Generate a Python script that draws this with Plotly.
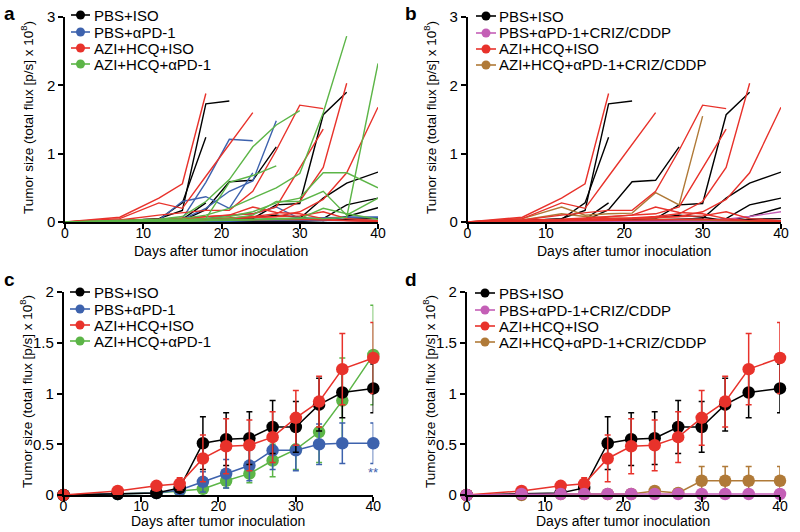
import plotly.graph_objects as go

days = [0, 7, 12, 15, 18, 21, 24, 27, 30, 33, 36, 40]
N = None

# ---- individual mice (panels a, b) ----
pbs_iso_mice = [
    [0, 0.02, 0.05, 0.17, 1.73, 1.77, N, N, N, N, N, N],
    [0, 0.02, 0.04, 0.28, 1.24, N, N, N, N, N, N, N],
    [0, 0.01, 0.02, 0.04, 0.28, N, N, N, N, N, N, N],
    [0, 0.01, 0.02, 0.02, 0.18, 0.59, 0.61, 1.10, N, N, N, N],
    [0, 0.01, 0.01, 0.02, 0.02, 0.03, 0.05, 0.25, 0.27, 1.57, 1.90, N],
    [0, 0.00, 0.01, 0.01, 0.02, 0.02, 0.03, 0.04, 0.05, 0.35, 0.57, 0.73],
    [0, 0.00, 0.00, 0.01, 0.01, 0.01, 0.02, 0.02, 0.01, 0.05, 0.25, 0.35],
    [0, 0.00, 0.00, 0.00, 0.01, 0.01, 0.01, 0.01, 0.01, 0.02, 0.08, 0.21],
    [0, 0.00, 0.01, 0.02, 0.03, 0.04, 0.06, 0.10, 0.07, 0.02, 0.04, 0.05],
]
pbs_apd1_mice = [
    [0, 0.02, 0.03, 0.30, 0.37, 0.20, 0.72, N, N, N, N, N],
    [0, 0.01, 0.02, 0.05, 0.58, 1.21, 1.19, N, N, N, N, N],
    [0, 0.01, 0.02, 0.04, 0.20, 0.45, 0.60, 1.48, N, N, N, N],
    [0, 0.01, 0.01, 0.02, 0.05, 0.10, 0.12, 0.22, 0.05, 0.04, 0.07, 0.07],
    [0, 0.00, 0.01, 0.01, 0.02, 0.03, 0.04, 0.05, 0.05, 0.07, 0.07, 0.07],
    [0, 0.00, 0.00, 0.01, 0.01, 0.01, 0.02, 0.02, 0.02, 0.03, 0.02, 0.01],
]
azi_iso_mice = [
    [0, 0.07, 0.35, 0.56, 1.88, N, N, N, N, N, N, N],
    [0, 0.05, 0.28, 0.20, 0.67, 1.13, 1.60, N, N, N, N, N],
    [0, 0.03, 0.10, 0.13, 0.17, 0.17, 0.45, 1.05, 1.71, 1.66, N, N],
    [0, 0.02, 0.04, 0.06, 0.08, 0.10, 0.12, 0.22, 0.80, 1.36, N, N],
    [0, 0.02, 0.03, 0.04, 0.05, 0.06, 0.08, 0.12, 0.30, 0.80, 2.03, N],
    [0, 0.01, 0.02, 0.03, 0.04, 0.05, 0.06, 0.08, 0.15, 0.33, 0.72, 1.68],
    [0, 0.02, 0.03, 0.05, 0.08, 0.10, 0.22, 0.14, 0.12, 0.05, 0.02, 0.01],
    [0, 0.01, 0.02, 0.03, 0.04, 0.05, 0.06, 0.07, 0.09, 0.15, 0.05, 0.02],
    [0, 0.01, 0.01, 0.02, 0.02, 0.03, 0.03, 0.04, 0.04, 0.03, 0.02, 0.01],
]
azi_apd1_mice = [
    [0, 0.02, 0.04, 0.08, 0.30, 0.62, 1.10, 1.42, 1.63, N, N, N],
    [0, 0.01, 0.03, 0.05, 0.10, 0.20, 0.35, 0.50, 0.71, 1.60, 2.72, N],
    [0, 0.01, 0.02, 0.03, 0.05, 0.58, 0.68, 0.82, N, N, N, N],
    [0, 0.01, 0.02, 0.03, 0.05, 0.08, 0.15, 0.28, 0.35, 0.72, 0.72, 0.50],
    [0, 0.01, 0.01, 0.02, 0.03, 0.05, 0.10, 0.30, 0.30, 0.45, 0.10, 0.35],
    [0, 0.00, 0.01, 0.01, 0.02, 0.03, 0.04, 0.05, 0.06, 0.05, 0.07, 2.32],
    [0, 0.00, 0.01, 0.01, 0.02, 0.02, 0.03, 0.04, 0.05, 0.20, 0.12, 0.04],
]
pbs_combo_mice = [
    [0, 0.01, 0.01, 0.01, 0.01, 0.01, 0.01, 0.01, 0.02, 0.04, 0.08, 0.15],
    [0, 0.00, 0.01, 0.01, 0.01, 0.01, 0.01, 0.01, 0.01, 0.01, 0.01, 0.01],
]
azi_combo_mice = [
    [0, 0.05, 0.22, 0.10, 0.12, 0.13, 0.43, 0.25, 1.55, N, N, N],
    [0, 0.03, 0.12, 0.08, 0.06, 0.05, 0.04, 0.03, 0.02, 0.02, 0.01, 0.01],
]

# ---- group means and SEM (panels c, d) ----
pbs_iso_mean = [0, 0.01, 0.02, 0.07, 0.51, 0.55, 0.56, 0.67, 0.67, 0.89, 1.01, 1.05]
pbs_iso_sem = [0, 0.01, 0.02, 0.03, 0.26, 0.26, 0.26, 0.26, 0.25, 0.26, 0.25, 0.24]
pbs_apd1_mean = [0, 0.01, 0.02, 0.05, 0.13, 0.21, 0.29, 0.44, 0.44, 0.50, 0.51, 0.51]
pbs_apd1_sem = [0, 0.01, 0.01, 0.02, 0.10, 0.14, 0.15, 0.19, 0.20, 0.20, 0.20, 0.20]
azi_iso_mean = [0, 0.04, 0.09, 0.11, 0.36, 0.48, 0.49, 0.57, 0.76, 0.92, 1.24, 1.35]
azi_iso_sem = [0, 0.02, 0.03, 0.06, 0.23, 0.27, 0.25, 0.25, 0.27, 0.25, 0.35, 0.35]
azi_apd1_mean = [0, 0.01, 0.02, 0.04, 0.06, 0.14, 0.21, 0.34, 0.45, 0.62, 0.93, 1.38]
azi_apd1_sem = [0, 0.01, 0.01, 0.02, 0.03, 0.07, 0.09, 0.16, 0.20, 0.30, 0.42, 0.49]
pbs_combo_mean = [0, 0.01, 0.01, 0.01, 0.01, 0.01, 0.01, 0.01, 0.01, 0.01, 0.01, 0.01]
pbs_combo_sem = [0, 0, 0, 0, 0, 0, 0, 0, 0, 0, 0, 0]
azi_combo_mean = [0, 0.00, 0.01, 0.01, 0.01, 0.01, 0.04, 0.02, 0.14, 0.14, 0.14, 0.14]
azi_combo_sem = [0, 0, 0, 0, 0, 0, 0.03, 0.01, 0.14, 0.14, 0.14, 0.14]

names_ac = ["PBS+ISO", "PBS+αPD-1", "AZI+HCQ+ISO", "AZI+HCQ+αPD-1"]
names_bd = ["PBS+ISO", "PBS+αPD-1+CRIZ/CDDP", "AZI+HCQ+ISO", "AZI+HCQ+αPD-1+CRIZ/CDDP"]

BLACK = "#000000"
BLUE = "#3d62ad"
RED = "#e8322b"
GREEN = "#5cb547"
PINK = "#c45fb6"
BROWN = "#b07a38"
colors_ac = [BLACK, BLUE, RED, GREEN]
colors_bd = [BLACK, PINK, RED, BROWN]

FONT = "Liberation Sans, Arial, sans-serif"
W, H = 800, 532
def px_x(p):
    return p / W
def px_y(p):
    return 1 - p / H

fig = go.Figure()

def spaghetti(mice, color, xa, ya):
    for m in mice:
        fig.add_trace(go.Scatter(x=days, y=m, mode="lines", line=dict(color=color, width=1.4),
                                 xaxis=xa, yaxis=ya, showlegend=False, connectgaps=False,
                                 cliponaxis=False, hoverinfo="skip"))

spaghetti(pbs_iso_mice, BLACK, "x", "y")
spaghetti(pbs_apd1_mice, BLUE, "x", "y")
spaghetti(azi_iso_mice, RED, "x", "y")
spaghetti(azi_apd1_mice, GREEN, "x", "y")

spaghetti(pbs_iso_mice, BLACK, "x2", "y2")
spaghetti(pbs_combo_mice, PINK, "x2", "y2")
spaghetti(azi_combo_mice, BROWN, "x2", "y2")
spaghetti(azi_iso_mice, RED, "x2", "y2")

def mean_trace(mean, sem, color, xa, ya):
    fig.add_trace(go.Scatter(x=days, y=mean, mode="lines+markers", showlegend=False,
                             line=dict(color=color, width=1.5),
                             marker=dict(color=color, size=12.5),
                             error_y=dict(type="data", array=sem, color=color, thickness=1.5, width=3),
                             xaxis=xa, yaxis=ya, cliponaxis=False))

mean_trace(azi_apd1_mean, azi_apd1_sem, GREEN, "x3", "y3")
mean_trace(pbs_apd1_mean, pbs_apd1_sem, BLUE, "x3", "y3")
mean_trace(pbs_iso_mean, pbs_iso_sem, BLACK, "x3", "y3")
mean_trace(azi_iso_mean, azi_iso_sem, RED, "x3", "y3")

mean_trace(azi_combo_mean, azi_combo_sem, BROWN, "x4", "y4")
mean_trace(pbs_iso_mean, pbs_iso_sem, BLACK, "x4", "y4")
mean_trace(azi_iso_mean, azi_iso_sem, RED, "x4", "y4")
mean_trace(pbs_combo_mean, pbs_combo_sem, PINK, "x4", "y4")

def xaxis(dom, anchor):
    return dict(domain=dom, anchor=anchor, range=[0, 40], tickvals=[0, 10, 20, 30, 40],
                showline=True, linecolor="black", linewidth=1.5, ticks="outside", ticklen=5,
                tickwidth=1.5, tickcolor="black", showgrid=False, zeroline=False, automargin=False,
                ticklabelstandoff=-8,
                tickfont=dict(size=14, family=FONT, color="black"))

def yaxis(dom, anchor, rng, tv, tt):
    return dict(domain=dom, anchor=anchor, range=rng, tickvals=tv, ticktext=tt,
                showline=True, linecolor="black", linewidth=1.5, ticks="outside", ticklen=5,
                tickwidth=1.5, tickcolor="black", showgrid=False, zeroline=False, automargin=False,
                tickfont=dict(size=15, family=FONT, color="black"))

ydom_top = [px_y(222), px_y(17)]
ydom_bot = [px_y(495), px_y(292)]
fig.update_layout(
    width=W, height=H, margin=dict(l=0, r=0, t=0, b=0),
    plot_bgcolor="white", paper_bgcolor="white", showlegend=False,
    font=dict(family=FONT, color="black"),
    xaxis=xaxis([px_x(65), px_x(378)], "y"),
    yaxis=yaxis(ydom_top, "x", [0, 3], [0, 1, 2, 3], ["0", "1", "2", "3"]),
    xaxis2=xaxis([px_x(467.5), px_x(781)], "y2"),
    yaxis2=yaxis(ydom_top, "x2", [0, 3], [0, 1, 2, 3], ["0", "1", "2", "3"]),
    xaxis3=xaxis([px_x(63.5), px_x(373.3)], "y3"),
    yaxis3=yaxis(ydom_bot, "x3", [0, 2], [0, 0.5, 1, 1.5, 2], ["0", "0.5", "1", "1.5", "2"]),
    xaxis4=xaxis([px_x(466.7), px_x(780)], "y4"),
    yaxis4=yaxis(ydom_bot, "x4", [0, 2], [0, 0.5, 1, 1.5, 2], ["0", "0.5", "1", "1.5", "2"]),
)

ytitle = "Tumor size (total flux [p/s] x 10<sup>8</sup>)"
xtitle = "Days after tumor inoculation"

for cx, cy in [(221, 251), (624, 251), (218, 521), (623, 521)]:
    fig.add_annotation(text=xtitle, x=px_x(cx), y=px_y(cy), xref="paper", yref="paper",
                       xanchor="center", yanchor="middle", showarrow=False,
                       font=dict(size=14, family=FONT, color="black"))
for cx, cy in [(27, 118), (430, 118), (26, 392), (429, 392)]:
    fig.add_annotation(text=ytitle, x=px_x(cx), y=px_y(cy), xref="paper", yref="paper",
                       xanchor="center", yanchor="middle", showarrow=False, textangle=-90,
                       font=dict(size=13.5, family=FONT, color="black"))

def legend(names, cols, lx0, lx1, tx, rows):
    for n, c, ry in zip(names, cols, rows):
        fig.add_shape(type="line", xref="paper", yref="paper",
                      x0=px_x(lx0), x1=px_x(lx1), y0=px_y(ry), y1=px_y(ry),
                      line=dict(color=c, width=1.6))
        cx = (lx0 + lx1) / 2
        fig.add_shape(type="circle", xref="paper", yref="paper",
                      xsizemode="pixel", ysizemode="pixel",
                      xanchor=px_x(cx), yanchor=px_y(ry), x0=-4.5, x1=4.5, y0=-4.5, y1=4.5,
                      fillcolor=c, line=dict(color=c, width=0))
        fig.add_annotation(text=n, x=px_x(tx), y=px_y(ry), xref="paper", yref="paper",
                           xanchor="left", yanchor="middle", showarrow=False,
                           font=dict(size=15, family=FONT, color="black"))

legend(names_ac, colors_ac, 71, 90, 92, [15, 32, 48, 64])
legend(names_bd, colors_bd, 476, 496, 497, [16, 33, 49, 65])
legend(names_ac, colors_ac, 70, 90, 92, [292, 309, 325, 341])
legend(names_bd, colors_bd, 475, 495, 497, [293, 310, 326, 342])

for txt, x, y in [("a", 2, 1), ("b", 403, 1), ("c", 2, 267), ("d", 403, 267)]:
    fig.add_annotation(text="<b>%s</b>" % txt, x=px_x(x), y=px_y(y), xref="paper", yref="paper",
                       xanchor="left", yanchor="top", showarrow=False,
                       font=dict(size=19, family=FONT, color="black"))

fig.add_shape(type="path", xref="x3", yref="y3",
              path="M 40.2,1.37 L 41.1,1.37 L 41.1,0.50 L 40.2,0.50",
              line=dict(color="black", width=1.2))
fig.add_annotation(text="##", x=41.8, y=0.93, xref="x3", yref="y3", showarrow=False,
                   textangle=90, font=dict(size=10, family=FONT, color="black"))
fig.add_annotation(text="**", x=40, y=0.22, xref="x3", yref="y3", showarrow=False,
                   font=dict(size=13, family=FONT, color=BLUE))
fig.add_annotation(text="***", x=40.3, y=0.14, xref="x4", yref="y4", showarrow=False,
                   xanchor="left", font=dict(size=11, family=FONT, color=BROWN))
fig.add_annotation(text="***", x=40.3, y=0.01, xref="x4", yref="y4", showarrow=False,
                   xanchor="left", font=dict(size=11, family=FONT, color=PINK))

fig.write_html("out.html", config={"displayModeBar": False},
               post_script="document.body.style.margin='0';document.body.style.overflow='hidden';")
